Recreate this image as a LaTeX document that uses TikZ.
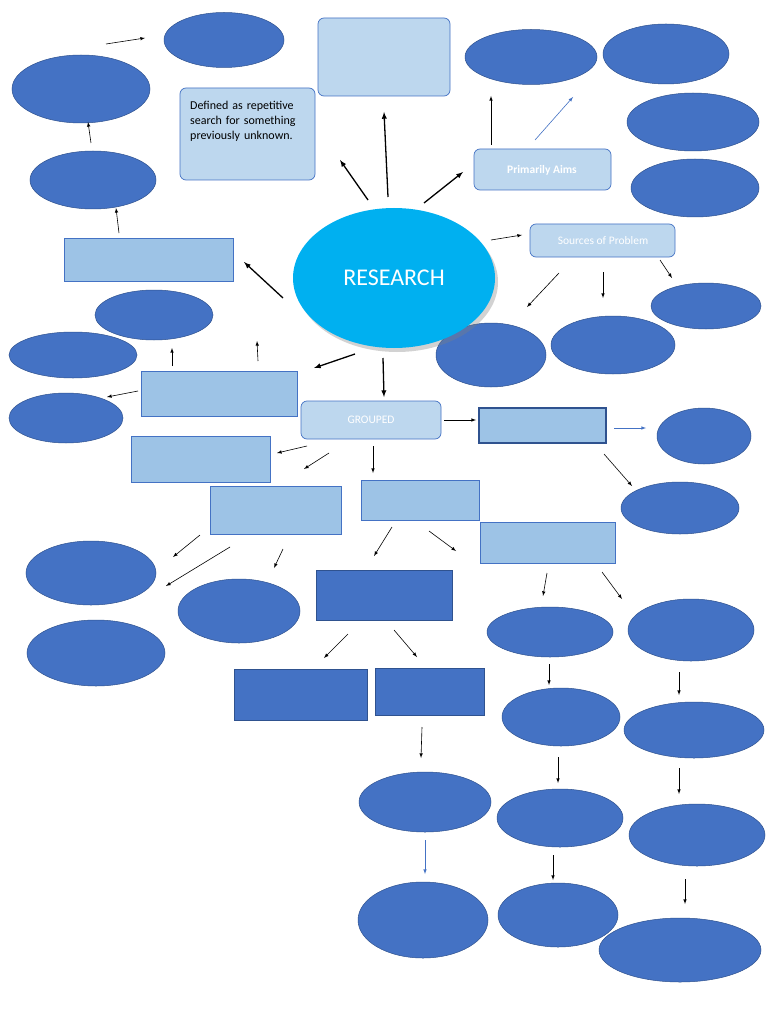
\documentclass[tikz,border=0pt]{standalone}
\usepackage{fontspec}
\setmainfont{Carlito}
\usetikzlibrary{shadows}
\definecolor{dk}{HTML}{4472C4}
\definecolor{lt}{HTML}{BDD7EE}
\definecolor{md}{HTML}{9DC3E6}
\definecolor{cy}{HTML}{00B0F0}
\definecolor{ed}{HTML}{2F528F}
\begin{document}
\begin{tikzpicture}[x=1pt,y=-1pt,
 ell/.style={ellipse,fill=dk,draw=ed,line width=0.6pt},
 lbox/.style={fill=lt,draw=dk,rounded corners=6pt,line width=0.7pt},
 mbox/.style={fill=md,draw=dk,line width=0.7pt},
 dbox/.style={fill=dk,draw=ed,line width=0.7pt},
 ar/.style={-latex,line width=0.6pt},
 bar/.style={-latex,line width=0.6pt,draw=dk}]
\useasboundingbox[fill=white] (0,0) rectangle (768,1024);
\newcommand{\E}[4]{\fill[dk] (#1,#2) ellipse [x radius=#3/2,y radius=#4/2]; \draw[ed,line width=0.5pt] (#1,#2) ellipse [x radius=#3/2,y radius=#4/2];}
\E{224}{40}{120}{55}\E{81}{89}{138}{68}\E{93}{180}{126}{58}
\E{531}{57}{132}{55}\E{666}{54}{126}{60}\E{693}{122}{132}{58}\E{695}{188}{128}{58}
\E{154}{315}{118}{50}\E{73}{355}{128}{46}\E{66}{418}{114}{50}
\E{706}{306}{110}{46}\E{491}{355}{110}{64}\E{613}{345}{124}{58}
\E{704}{436}{94}{56}\E{680}{508}{118}{52}
\E{91}{573}{130}{64}\E{96}{653}{138}{66}\E{239}{611}{122}{64}
\E{550}{632}{126}{50}\E{691}{630}{126}{62}\E{561}{717}{118}{58}\E{694}{730}{140}{56}
\E{425}{802}{132}{60}\E{560}{818}{126}{58}\E{697}{835}{136}{62}
\E{423}{920}{130}{76}\E{558}{915}{120}{64}\E{680}{950}{162}{64}
% light boxes
\draw[lbox] (318,18) rectangle (450,96);
\draw[lbox] (180,88) rectangle (315,180);
\node[anchor=north west,align=left,font=\fontsize{12}{15}\selectfont,text width=128pt,inner sep=0pt] (def) at (190,101) {Defined as repetitive search for something previously unknown.};
\draw[lbox] (474,149) rectangle (611,190);
\node[text=white,font=\bfseries\fontsize{11.5}{13}\selectfont] (pa) at (542,170) {Primarily Aims};
\draw[lbox] (530,224) rectangle (675,257);
\node[text=white,font=\fontsize{11.5}{13}\selectfont] (sp) at (603,241) {Sources of Problem};
\draw[lbox] (301,401) rectangle (441,439);
\node[text=white,font=\fontsize{11.5}{13}\selectfont] (gr) at (371,420) {GROUPED};
% research
\fill[cy,drop shadow={opacity=0.35,shadow xshift=3pt,shadow yshift=-4pt}] (394,278) ellipse [x radius=101,y radius=70];
\node[text=white,font=\fontsize{24}{28}\selectfont] (res) at (394,278) {RESEARCH};
% medium rects
\draw[mbox] (64,238) rectangle (233,281);
\draw[mbox] (141,371) rectangle (297,416);
\draw[mbox] (131,436) rectangle (270,482);
\draw[mbox] (210,486) rectangle (341,534);
\draw[mbox] (361,480) rectangle (479,520);
\draw[mbox,draw=ed,line width=1.2pt] (479,408) rectangle (606,443);
\draw[mbox] (480,522) rectangle (615,563);
\draw[dbox] (316,570) rectangle (452,620);
\draw[dbox] (234,669) rectangle (367,720);
\draw[dbox] (375,668) rectangle (484,715);
% arrows
\foreach \a/\b/\c/\d in {106/44/145/38, 91/143/88/122, 119/233/116/208, 491/145/491/96,
 491/240/522/235, 559/273/527/307, 603/272/603/298, 660/260/672/278,
 258/361/257/341, 172/366/172/348, 138/391/107/397, 307/446/277/453, 329/453/304/469,
 373/446/373/473, 444/420/476/420, 604/454/632/486, 200/535/173/557, 230/547/166/586,
 283/549/274/568, 392/527/374/556, 429/531/456/551, 547/573/543/596, 602/572/622/599,
 348/634/324/658, 394/630/417/657, 549/664/549/685, 679/672/679/695, 422/727/421/758,
 558/757/558/783, 679/768/679/794, 553/855/553/880, 685/879/685/904}
 \draw[ar] (\a,\b) -- (\c,\d);
\foreach \a/\b/\c/\d in {283/298/244/262, 368/200/340/160, 388/197/384/112, 424/203/463/172,
 355/354/314/368, 383/358/384/397}
 \draw[-latex,line width=1.3pt] (\a,\b) -- (\c,\d);
\foreach \a/\b/\c/\d in {535/140/573/97, 614/428/646/428, 425/840/425/874}
 \draw[bar] (\a,\b) -- (\c,\d);
\end{tikzpicture}
\end{document}
